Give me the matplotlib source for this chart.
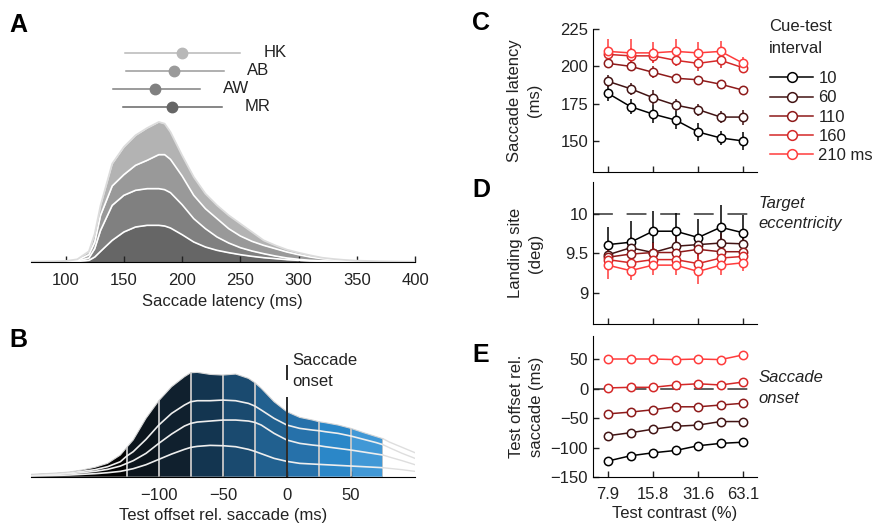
import numpy as np
import matplotlib
matplotlib.use('Agg')
import matplotlib.pyplot as plt

plt.rcParams['font.family'] = ['Liberation Sans', 'DejaVu Sans']
plt.rcParams['font.size'] = 12
plt.rcParams['text.color'] = '#222222'
plt.rcParams['axes.labelcolor'] = '#222222'
plt.rcParams['xtick.color'] = '#222222'
plt.rcParams['ytick.color'] = '#222222'

# ---- Panel A: saccade latency distributions (stacked, per observer) ----
lat_x = [70, 80, 90, 100, 110, 120, 125, 130, 140, 150, 160, 170, 180, 185, 190, 200,
         210, 220, 230, 240, 250, 260, 270, 280, 290, 300, 310, 320, 330, 340, 350,
         360, 370, 380, 390, 400]
# cumulative layer tops: MR, MR+AW, MR+AW+AB, all four
lat_mr = [0.2, 0.3, 0.5, 0.7, 1.5, 5, 15, 32, 65, 90, 105, 110, 110, 108, 102, 82,
          60, 45, 35, 28, 22, 17, 13, 10, 7, 5, 3, 2, 1.5, 1, 0.8, 0.6, 0.5, 0.4, 0.3, 0.2]
lat_mr_aw = [0.4, 0.6, 1, 1.3, 3, 12, 40, 95, 170, 200, 215, 220, 220, 217, 208, 172,
             130, 100, 75, 57, 43, 33, 25, 18, 12, 8, 5, 3.5, 2.5, 2, 1.5, 1, 0.8, 0.6, 0.5, 0.4]
lat_mr_aw_ab = [0.7, 1, 1.5, 2, 5, 22, 60, 140, 228, 262, 290, 305, 322, 322, 308, 258,
                200, 160, 130, 100, 78, 62, 50, 40, 30, 22, 15, 10, 7, 4.5, 3, 2, 1.5, 1, 0.8, 0.6]
lat_all = [1, 1.5, 2, 3, 8, 32, 85, 170, 295, 345, 380, 402, 420, 415, 390, 320,
           255, 205, 170, 140, 115, 90, 65, 50, 37, 28, 20, 13, 9, 6, 4, 3, 2, 1.5, 1, 0.8]

observers = ['HK', 'AB', 'AW', 'MR']
obs_mean = [200, 193, 177, 191]
obs_lo = [151, 152, 141, 149]
obs_hi = [250, 236, 215, 234]
obs_row = [627, 573, 519, 465]
obs_colors = ['#b8b8b8', '#9a9a9a', '#808080', '#666666']

# ---- Panel B: test offset relative to saccade (stacked) ----
off_x = [-200, -190, -180, -170, -160, -150, -140, -130, -125, -120, -110, -100, -90, -80,
         -75, -70, -60, -50, -40, -30, -25, -20, -10, 0, 10, 20, 25, 30, 40, 50, 60, 70,
         75, 80, 90, 100]
off_l1 = [2, 3, 4, 5, 7, 9, 12, 16, 20, 24, 36, 52, 68, 82, 88, 91, 94, 93, 90, 82, 76,
          69, 55, 46, 40, 38, 37, 36, 34, 32, 30, 28, 27, 25, 21, 16]
off_l2 = [4, 5, 7, 9, 12, 16, 22, 32, 40, 48, 70, 100, 128, 152, 160, 164, 167, 170, 170,
          167, 163, 155, 130, 110, 100, 95, 93, 90, 85, 80, 74, 68, 65, 59, 48, 36]
off_l3 = [5, 7, 9, 12, 16, 21, 30, 45, 62, 75, 112, 155, 190, 215, 225, 228, 228, 230, 228,
          220, 212, 200, 175, 155, 145, 140, 138, 135, 130, 122, 112, 102, 96, 87, 70, 55]
off_top = [7, 9, 11, 14, 20, 28, 40, 65, 88, 110, 175, 228, 270, 300, 312, 313, 307, 305,
           308, 295, 282, 265, 225, 195, 178, 170, 165, 162, 155, 145, 132, 120, 114, 104, 88, 72]
bin_edges = [-200, -125, -100, -75, -50, -25, 0, 25, 50, 75]
bin_colors = ['#030303', '#0c151d', '#10202e', '#133550', '#1a4a6f', '#21608f',
              '#2671aa', '#2b87c8', '#4198d6']

# ---- Panels C-E: vs test contrast ----
contrast = [7.9, 11.2, 15.8, 22.4, 31.6, 44.7, 63.1]
contrast_ticks = [7.9, 15.8, 31.6, 63.1]
intervals = ['10', '60', '110', '160', '210 ms']
int_colors = ['#000000', '#421414', '#8e1a1a', '#d42828', '#ff3c3c']

latency = [
    [182, 173, 168, 164, 156, 152, 150],
    [190, 185, 179, 174, 171, 166, 166],
    [202, 200, 196, 192, 191, 188, 184],
    [208, 207, 207, 204, 202, 204, 199],
    [210, 209, 209, 210, 209, 210, 202],
]
latency_err = [
    [5, 5, 6, 6, 6, 5, 6],
    [4, 4, 5, 4, 4, 4, 5],
    [3, 3, 4, 2, 2, 2, 2],
    [5, 5, 5, 4, 5, 5, 3],
    [8, 9, 7, 8, 7, 7, 4],
]
landing = [
    [9.61, 9.64, 9.78, 9.78, 9.70, 9.83, 9.76],
    [9.48, 9.57, 9.51, 9.59, 9.61, 9.63, 9.62],
    [9.45, 9.49, 9.51, 9.51, 9.55, 9.52, 9.52],
    [9.42, 9.38, 9.42, 9.42, 9.37, 9.44, 9.46],
    [9.35, 9.28, 9.35, 9.35, 9.27, 9.35, 9.38],
]
landing_err = [
    [0.22, 0.27, 0.25, 0.23, 0.23, 0.28, 0.23],
    [0.14, 0.14, 0.13, 0.13, 0.14, 0.13, 0.13],
    [0.12, 0.12, 0.12, 0.12, 0.12, 0.12, 0.12],
    [0.12, 0.12, 0.12, 0.12, 0.14, 0.12, 0.11],
    [0.17, 0.12, 0.12, 0.12, 0.16, 0.12, 0.10],
]
offset = [
    [-123, -114, -109, -105, -97, -93, -91],
    [-80, -75, -69, -64, -62, -56, -56],
    [-43, -40, -36, -31, -31, -28, -25],
    [1, 2, 2, 6, 8, 6, 11],
    [50, 50, 50, 49, 50, 49, 57],
]
offset_err = [
    [2, 2, 2, 2, 2, 2, 2],
    [2, 2, 2, 2, 2, 2, 2],
    [2, 2, 2, 2, 2, 2, 2],
    [2, 2, 2, 2, 3, 2, 3],
    [3, 4, 3, 3, 3, 3, 3],
]

W, H = 881, 527
fig = plt.figure(figsize=(W / 100, H / 100), dpi=100)


def px_axes(left, top, right, bottom):
    return fig.add_axes([left / W, 1 - bottom / H, (right - left) / W, (bottom - top) / H])


def bottom_only(ax):
    for s in ['top', 'right', 'left']:
        ax.spines[s].set_visible(False)
    ax.set_yticks([])
    ax.tick_params(axis='x', direction='in', length=4, width=1, pad=8, labelsize=12)


# ----------------------------------------------------
# A
# ----------------------------------------------------
ax = px_axes(30.7, 40, 415, 262)
bounds = [np.zeros(len(lat_x)), lat_mr, lat_mr_aw, lat_mr_aw_ab, lat_all]
fills = ['#666666', '#808080', '#999999', '#b3b3b3']
for i in range(4):
    ax.fill_between(lat_x, bounds[i], bounds[i + 1], color=fills[i], lw=0)
for b in bounds[1:4]:
    ax.plot(lat_x, b, color='white', lw=1.2)
ax.plot(lat_x, lat_all, color='#dcdcdc', lw=1.3)
for name, m, lo, hi, y, c in zip(observers, obs_mean, obs_lo, obs_hi, obs_row, obs_colors):
    ax.plot([lo, hi], [y, y], color=c, lw=1.1)
    ax.plot(m, y, 'o', color=c, ms=7.5)
    ax.text(hi + 20, y, name, va='center', ha='left', fontsize=12)
ax.set_xlim(70, 400)
ax.set_ylim(0, 666)
ax.set_xticks([100, 150, 200, 250, 300, 350, 400])
bottom_only(ax)
ax.set_xlabel('Saccade latency (ms)', fontsize=12, labelpad=4)

# ----------------------------------------------------
# B
# ----------------------------------------------------
ax = px_axes(30.7, 353.4, 415, 476.7)
n_fill = off_x.index(75) + 1
area = ax.fill_between(off_x[:n_fill], 0, off_top[:n_fill], color='none', lw=0)
clip = area.get_paths()[0]
for (a, b), c in zip(zip(bin_edges[:-1], bin_edges[1:]), bin_colors):
    span = ax.axvspan(a, b, color=c, lw=0)
    span.set_clip_path(clip, ax.transData)
vl = ax.vlines(bin_edges[1:], 0, 400, color='#c8c8c8', lw=1.3)
vl.set_clip_path(clip, ax.transData)
for b in [off_l1, off_l2, off_l3]:
    ax.plot(off_x[:n_fill], b[:n_fill], color='#eeeeee', lw=1.2)
for b in [off_l1, off_l2, off_l3, off_top]:
    ax.plot(off_x[n_fill - 1:], b[n_fill - 1:], color='#dedede', lw=1.0)
ax.plot(off_x[:n_fill], off_top[:n_fill], color='#d5d5d5', lw=0.8)
ax.vlines(0, 0, 240, color='#2a2a2a', lw=1.4)
ax.vlines(0, 290, 335, color='#2a2a2a', lw=1.4)
ax.text(4.5, 370, 'Saccade\nonset', va='top', ha='left', fontsize=12, linespacing=1.45)
ax.set_xlim(-200, 100)
ax.set_ylim(0, 370)
ax.set_xticks([-100, -50, 0, 50])
ax.set_xticklabels(['\u2212100', '\u221250', '0', '50'])
bottom_only(ax)
ax.set_xlabel('Test offset rel. saccade (ms)', fontsize=12, labelpad=4)


# ----------------------------------------------------
# C, D, E
# ----------------------------------------------------
def contrast_axes(top, bottom):
    a = px_axes(593, top, 757, bottom)
    a.set_xscale('log')
    a.set_xlim(6.3, 78)
    a.set_xticks(contrast_ticks)
    a.minorticks_off()
    a.spines['top'].set_visible(False)
    a.spines['right'].set_visible(False)
    a.tick_params(direction='in', length=4, width=1, labelsize=12)
    return a


def draw_series(a, vals, errs):
    for v, e, c in zip(vals, errs, int_colors):
        a.errorbar(contrast, v, yerr=e, color=c, lw=1.1, elinewidth=1.1, capsize=0,
                   marker='o', ms=6, mfc='white', mec=c, mew=1.1)


axc = contrast_axes(29, 172.3)
draw_series(axc, latency, latency_err)
axc.set_ylim(129, 225)
axc.set_yticks([150, 175, 200, 225])
axc.set_xticklabels([])
axc.set_ylabel('Saccade latency\n(ms)', fontsize=12, labelpad=13, linespacing=1.4)
handles = [plt.Line2D([], [], color=c, lw=1.1, marker='o', ms=7, mfc='white', mec=c, mew=1.1)
           for c in int_colors]
axc.legend(handles, intervals, loc='upper left', bbox_to_anchor=(1.08, 0.705),
           frameon=False, fontsize=12, handlelength=2.6, handletextpad=0.3,
           labelspacing=0.25, borderaxespad=0.0, borderpad=0.0)
fig.text(769 / W, 1 - 19 / H, 'Cue-test\ninterval', va='top', ha='left', fontsize=12,
         linespacing=1.55)

axd = contrast_axes(182.3, 324.3)
axd.axhline(10, color='#333333', lw=1.1, dashes=(13, 9), zorder=1, clip_on=False)
draw_series(axd, landing, landing_err)
axd.set_ylim(8.6, 10.4)
axd.set_yticks([9, 9.5, 10])
axd.set_yticklabels(['9', '9.5', '10'])
axd.set_xticklabels([])
axd.set_ylabel('Landing site\n(deg)', fontsize=12, labelpad=16, linespacing=1.4)
axd.text(1.01, 0.78, 'Target\neccentricity', transform=axd.transAxes, style='italic',
         fontsize=12, va='center', ha='left', linespacing=1.45)

axe = contrast_axes(336, 477)
axe.axhline(0, color='#333333', lw=1.1, dashes=(13, 9), zorder=1, clip_on=False)
draw_series(axe, offset, offset_err)
axe.set_ylim(-150, 89)
axe.set_yticks([-150, -100, -50, 0, 50])
axe.set_yticklabels(['\u2212150', '\u2212100', '\u221250', '0', '50'])
axe.set_xticklabels(['7.9', '15.8', '31.6', '63.1'])
axe.tick_params(axis='x', pad=7)
axe.set_ylabel('Test offset rel.\nsaccade (ms)', fontsize=12, labelpad=5, linespacing=1.4)
axe.set_xlabel('Test contrast (%)', fontsize=12, labelpad=3)
axe.text(1.01, 0.63, 'Saccade\nonset', transform=axe.transAxes, style='italic',
         fontsize=12, va='center', ha='left', linespacing=1.45)

# panel letters
for letter, x, y in [('A', 9, 13), ('B', 9, 328), ('C', 472, 11), ('D', 472, 178), ('E', 472, 343)]:
    fig.text(x / W, 1 - y / H, letter, fontsize=18, fontweight='bold', va='top', ha='left',
             color='black')

fig.savefig('out.png', dpi=100)
